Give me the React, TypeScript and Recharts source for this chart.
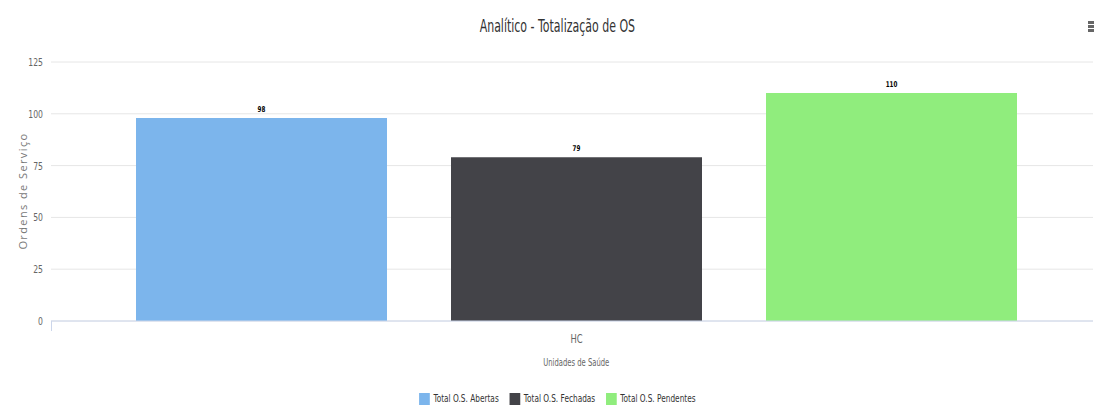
import React from 'react';
import { BarChart, Bar, XAxis, YAxis, CartesianGrid, LabelList } from 'recharts';

const categories = ['HC'];
const abertas = [98];
const fechadas = [79];
const pendentes = [110];
const yTicks = [0, 25, 50, 75, 100, 125];

const seriesInfo = [
  { key: 'abertas', name: 'Total O.S. Abertas', color: '#7cb5ec' },
  { key: 'fechadas', name: 'Total O.S. Fechadas', color: '#434348' },
  { key: 'pendentes', name: 'Total O.S. Pendentes', color: '#90ed7d' },
];

const data = categories.map((c, i) => ({
  name: c,
  abertas: abertas[i],
  fechadas: fechadas[i],
  pendentes: pendentes[i],
}));

const FONT = "'DejaVu Sans', sans-serif";
const SX = 0.7;

const YTick = (props: any) => {
  const { x, y, payload } = props;
  return (
    <text
      x={x}
      y={y}
      dy={4}
      textAnchor="end"
      fontSize={11}
      fill="#666"
      fontFamily={FONT}
      transform={`translate(${x} 0) scale(${SX} 1) translate(${-x} 0)`}
    >
      {payload.value}
    </text>
  );
};

const XTick = (props: any) => {
  const { x, y, payload } = props;
  return (
    <text
      x={x}
      y={y}
      dy={12}
      textAnchor="middle"
      fontSize={12}
      fill="#666"
      fontFamily={FONT}
      transform={`translate(${x} 0) scale(${SX} 1) translate(${-x} 0)`}
    >
      {payload.value}
    </text>
  );
};

const DataLabel = (props: any) => {
  const { x, y, width, value } = props;
  const cx = x + width / 2;
  return (
    <text
      x={cx}
      y={y - 6}
      textAnchor="middle"
      fontSize={8}
      fontWeight="bold"
      fill="#000"
      fontFamily={FONT}
      transform={`translate(${cx} 0) scale(${SX} 1) translate(${-cx} 0)`}
    >
      {value}
    </text>
  );
};

export default function App() {
  return (
    <div style={{ position: 'fixed', left: 0, top: 0, width: 1094, height: 406, background: '#fff', overflow: 'hidden', fontFamily: FONT }}>
      <BarChart
        width={1094}
        height={406}
        data={data}
        margin={{ top: 62, right: -8, left: 0, bottom: 65 }}
        barGap={64}
        style={{ position: 'absolute', left: 0, top: 0 }}
      >
        <CartesianGrid horizontal vertical={false} stroke="#e6e6e6" />
        <XAxis
          dataKey="name"
          height={20}
          axisLine={{ stroke: '#ccd6eb' }}
          tickLine={false}
          tick={<XTick />}
          tickMargin={4}
        />
        <YAxis
          width={51}
          domain={[0, 125]}
          ticks={yTicks}
          axisLine={false}
          tickLine={false}
          tick={<YTick />}
          tickMargin={2}
        />
        {seriesInfo.map((s) => (
          <Bar key={s.key} dataKey={s.key} name={s.name} fill={s.color} barSize={251} isAnimationActive={false}>
            <LabelList dataKey={s.key} content={<DataLabel />} />
          </Bar>
        ))}
      </BarChart>
      <div style={{ position: 'absolute', left: 1093, top: 0, width: 1, height: 406, background: '#fff' }} />
      <div style={{ position: 'absolute', left: 51, top: 321, width: 1, height: 10, background: '#ccd6eb' }} />
      <div style={{ position: 'absolute', top: 15, left: 0, width: 1114, textAlign: 'center' }}>
        <div style={{ display: 'inline-block', fontSize: 18, color: '#333', transform: 'scaleX(0.61)', whiteSpace: 'nowrap' }}>
          Analítico - Totalização de OS
        </div>
      </div>
      <div style={{ position: 'absolute', left: 1088, top: 21 }}>
        {[0, 1, 2].map((i) => (
          <div key={i} style={{ width: 6, height: 2.5, background: '#666', marginBottom: 1.5 }} />
        ))}
      </div>
      <div
        style={{
          position: 'absolute',
          left: 22,
          top: 191,
          transform: 'translate(-50%, -50%) rotate(-90deg)',
          whiteSpace: 'nowrap',
          fontSize: 11,
          letterSpacing: 1.4,
          color: '#777',
          fontFamily: "'Open Sans', sans-serif",
        }}
      >
        Ordens de Serviço
      </div>
      <div style={{ position: 'absolute', left: 0, top: 351, width: 1152, textAlign: 'center' }}>
        <div style={{ display: 'inline-block', fontSize: 11, color: '#666', transform: 'scaleX(0.62)', whiteSpace: 'nowrap' }}>
          Unidades de Saúde
        </div>
      </div>
      <div style={{ position: 'absolute', left: 0, top: 392, width: 1114, display: 'flex', justifyContent: 'center' }}>
        <div style={{ display: 'flex', transform: 'scaleX(0.67)', fontSize: 11, color: '#333', whiteSpace: 'nowrap' }}>
          {seriesInfo.map((s, i) => (
            <div key={s.key} style={{ display: 'flex', alignItems: 'center', marginRight: i < 2 ? 16 : 0 }}>
              <div style={{ width: 11 / 0.67, height: 12, background: s.color, marginRight: 5 }} />
              <span style={{ fontWeight: 500 }}>{s.name}</span>
            </div>
          ))}
        </div>
      </div>
    </div>
  );
}
